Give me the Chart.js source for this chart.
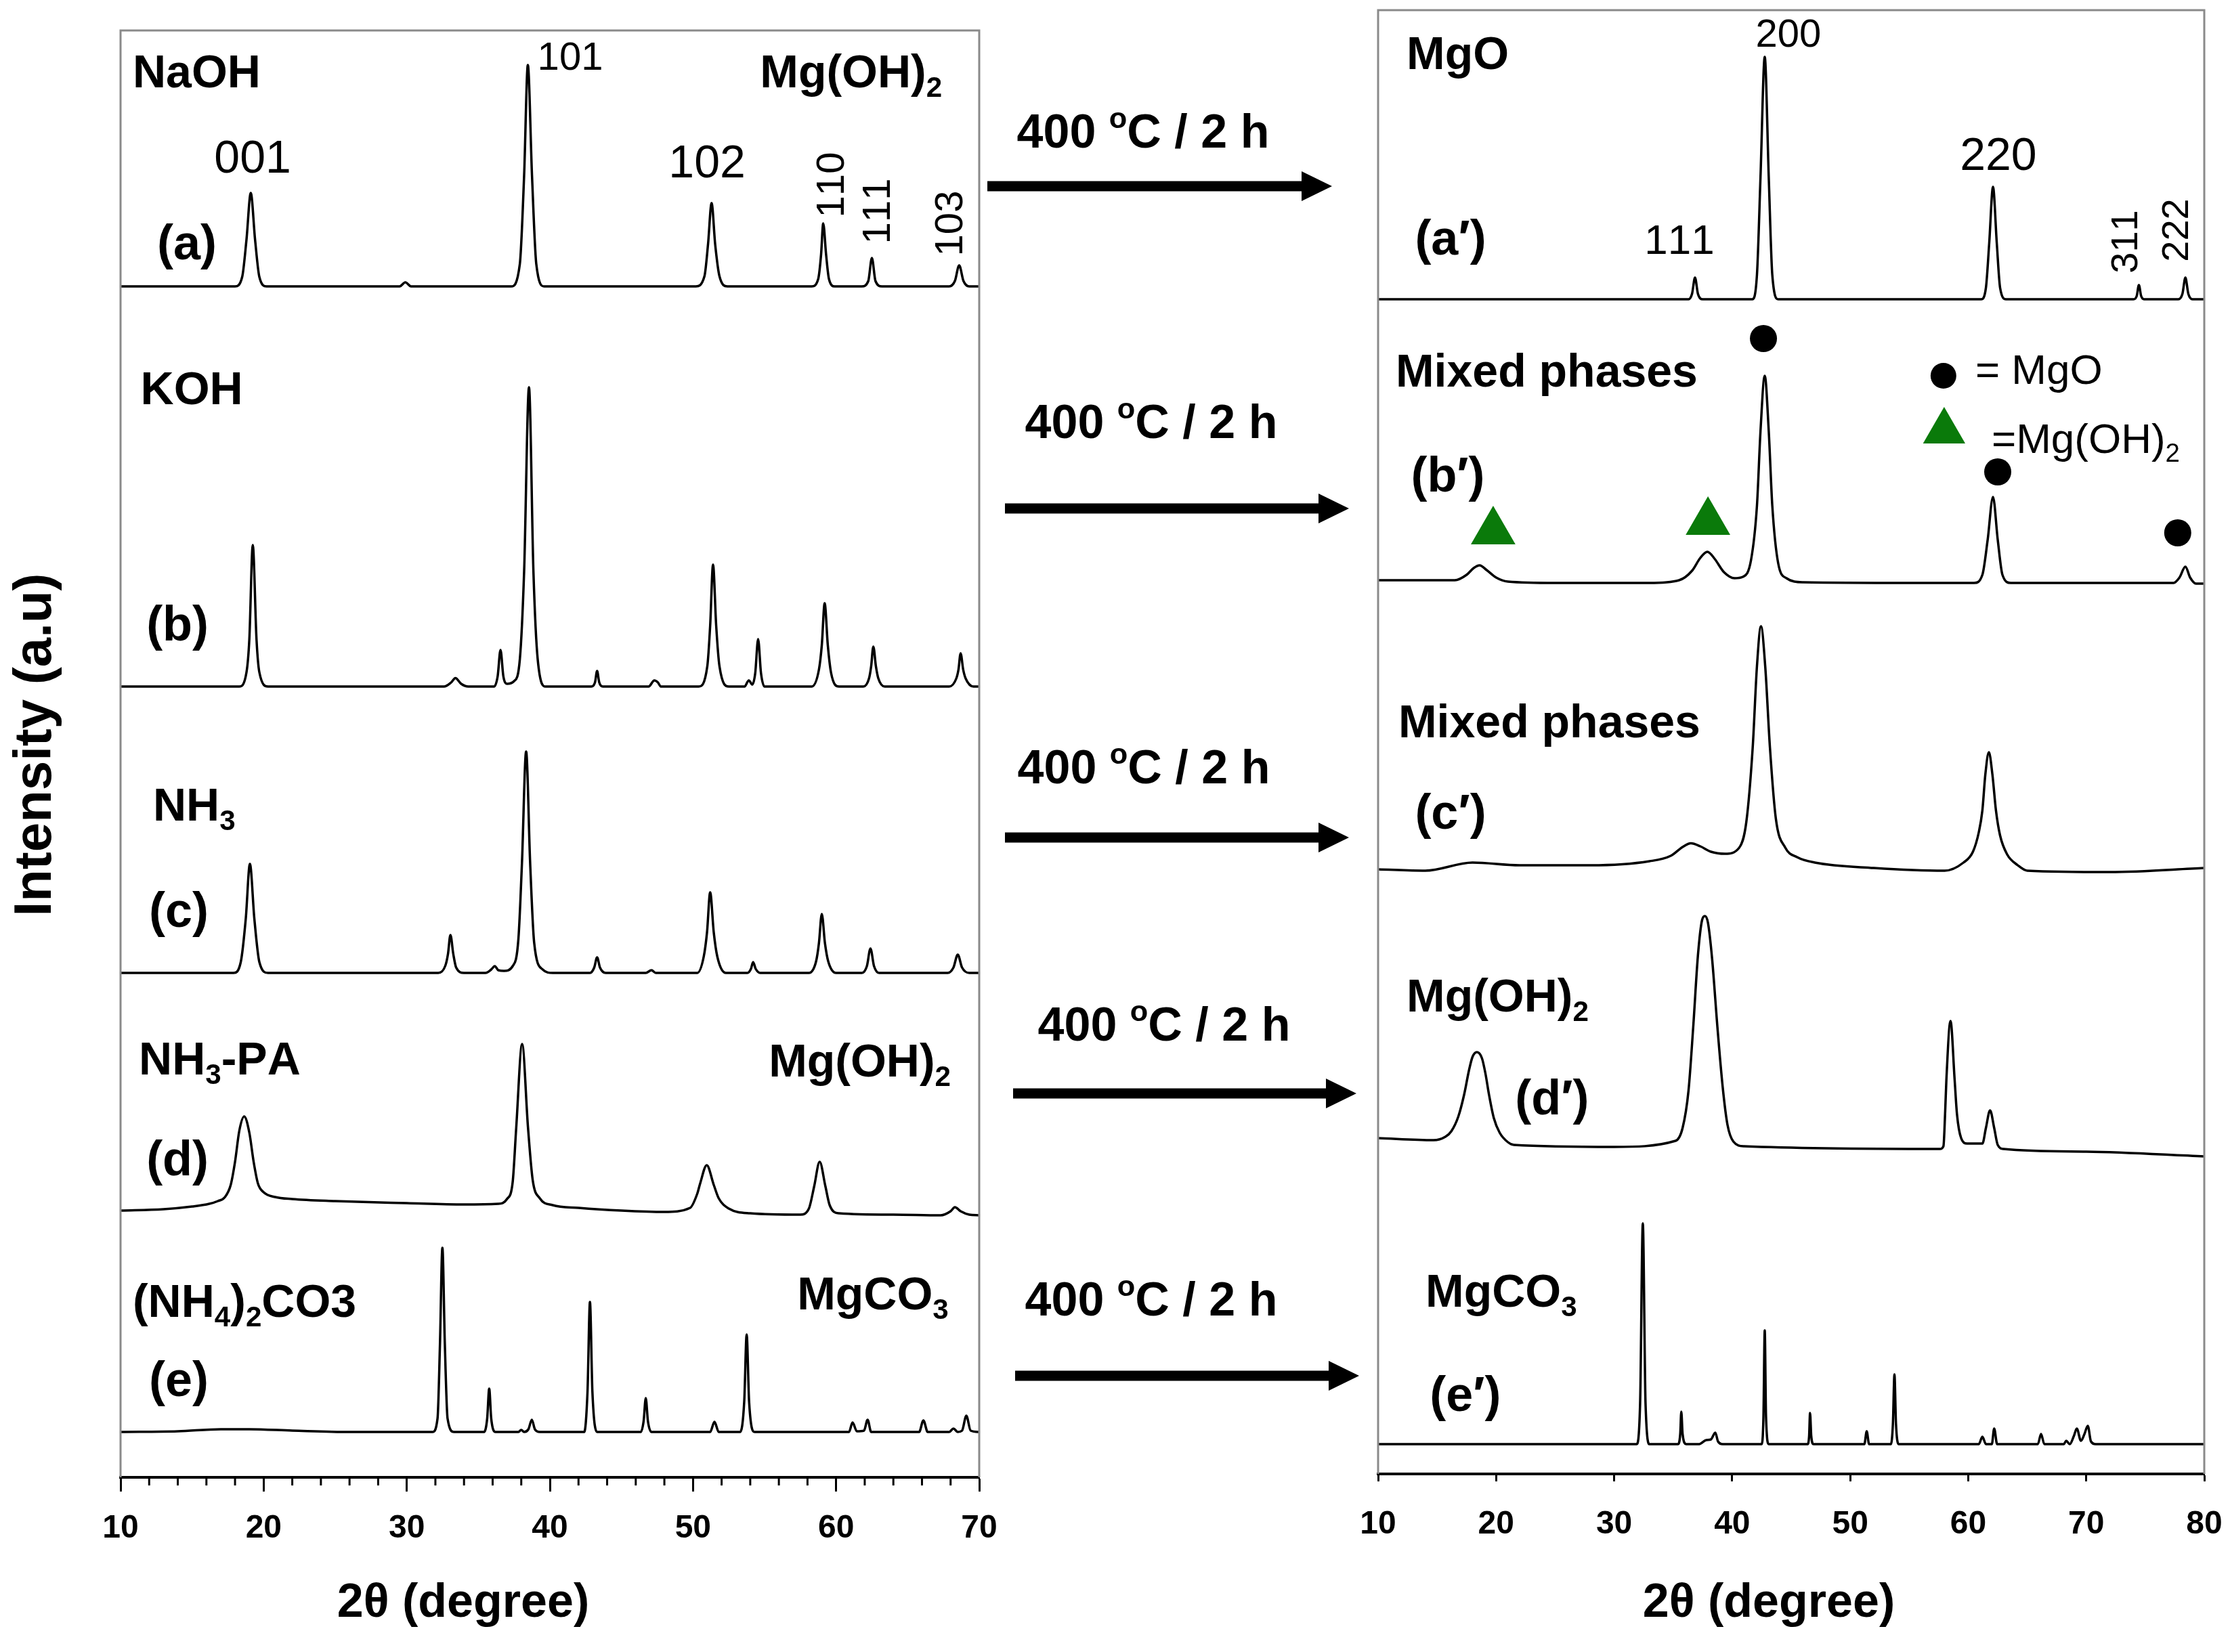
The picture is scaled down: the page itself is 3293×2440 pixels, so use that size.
<!DOCTYPE html>
<html>
<head>
<meta charset="utf-8">
<script src="https://cdn.jsdelivr.net/npm/chart.js@4.4.0/dist/chart.umd.min.js"></script>
<style>
  html, body { margin: 0; padding: 0; background: #fff; }
  #wrap { position: relative; width: 3293px; height: 2440px; overflow: hidden; background: #fff; }
  #left { position: absolute; left: 0; top: 0; }
  #right { position: absolute; left: 1960px; top: 0; }
</style>
</head>
<body>
<div id="wrap">
  <canvas id="left" width="2020" height="2440"></canvas>
  <canvas id="right" width="1373" height="2440"></canvas>
</div>
<script>
// XRD patterns, [2theta, intensity above the trace baseline]
// left panel: as-prepared samples (a)-(e)
const traceA = [[10,0],[18.0,0],[18.5,14],[18.8,69],[19.1,138],[19.4,69],[19.7,14],[20.2,0],
  [29.5,0],[29.9,6],[30.3,0],
  [37.3,0],[37.9,33],[38.2,164],[38.46,327],[38.75,164],[39.05,33],[39.6,0],
  [50.2,0],[50.8,15],[51.05,62],[51.3,123],[51.55,62],[51.85,15],[52.4,0],
  [58.3,0],[58.75,11],[58.95,47],[59.1,93],[59.3,47],[59.5,11],[59.9,0],
  [61.8,0],[62.25,8],[62.5,42],[62.75,8],[63.2,0],
  [67.9,0],[68.3,8],[68.6,31],[68.9,8],[69.3,0],[70,0]];
const traceB = [[10,0],[18.3,0],[18.8,21],[19.0,70],[19.24,209],[19.5,70],[19.7,21],[20.3,0],
  [32.6,0],[33.1,6],[33.4,12.6],[33.8,4],[34.3,0],
  [36.1,0],[36.35,15],[36.55,54],[36.75,15],[37.0,4],
  [37.5,8],[37.9,40],[38.2,170],[38.54,442],[38.85,170],[39.15,40],[39.7,0],
  [42.9,0],[43.15,6],[43.3,23],[43.45,6],[43.7,0],
  [46.9,0],[47.3,9],[47.55,6],[47.75,0],
  [50.4,0],[51.0,30],[51.2,90],[51.4,180],[51.62,90],[51.85,30],[52.5,0],
  [53.6,0],[53.9,9],[54.15,3],[54.35,20],[54.55,70],[54.75,20],[55.0,0],
  [58.3,0],[58.8,25],[59.0,61],[59.2,123],[59.42,61],[59.65,20],[60.2,0],
  [61.9,0],[62.3,12],[62.45,30],[62.6,59],[62.78,30],[62.95,12],[63.4,0],
  [67.9,0],[68.4,12],[68.55,25],[68.7,49],[68.88,25],[69.05,12],[69.6,0],[70,0]];
const traceC = [[10,0],[17.9,0],[18.4,16],[18.75,80],[19.04,161],[19.35,80],[19.7,16],[20.3,0],
  [32.2,0],[32.7,11],[32.88,28],[33.05,56],[33.25,28],[33.45,8],[34.0,0],
  [35.5,0],[35.9,5],[36.15,10],[36.4,4],[36.8,3],
  [37.4,10],[37.8,50],[38.05,163],[38.34,327],[38.62,163],[38.9,45],[39.5,5],[40.2,0],
  [42.8,0],[43.1,8],[43.3,23],[43.5,8],[43.9,0],
  [46.7,0],[47.1,4],[47.4,0],
  [50.3,0],[50.75,24],[50.98,60],[51.2,119],[51.45,60],[51.7,24],[52.3,0],
  [53.8,0],[54.05,6],[54.2,16],[54.38,6],[54.7,0],
  [58.1,0],[58.6,17],[58.8,44],[59.0,87],[59.22,44],[59.45,17],[60.0,0],
  [61.8,0],[62.15,10],[62.4,36],[62.65,10],[63.0,0],
  [67.8,0],[68.2,8],[68.5,27],[68.8,8],[69.3,0],[70,0]];
const traceD = [[10,0],[13,2],[15,6],[16.2,10],[16.8,14],[17.3,20],[17.7,38],[18.0,72],[18.3,118],[18.64,139],[19.0,115],[19.3,72],[19.6,40],[20.0,27],[20.8,20],
  [22,17],[25,14],[30,11],[34,9],[36.4,10],[37.0,17],[37.4,42],[37.65,123],[38.06,246],[38.47,123],[38.8,45],[39.3,18],[40.2,8],
  [42,4],[45,0],[48,-2],[49.8,4],[50.3,25],[50.5,40],[50.96,67],[51.45,38],[51.8,18],[52.5,3],
  [54,-4],[57.5,-6],[58.1,3],[58.47,36],[58.85,72],[59.25,36],[59.55,8],[60.2,-4],
  [64,-6],[67.3,-7],[68.0,-1],[68.3,5],[68.7,-1],[69.3,-6],[70,-7]];
const traceE = [[10,0],[14,1],[17,4],[19,4],[22,2],[26,0],
  [31.8,0],[32.15,20],[32.32,130],[32.49,272],[32.66,130],[32.85,20],[33.3,0],
  [35.4,0],[35.62,20],[35.76,64],[35.9,20],[36.2,0],
  [37.8,0],[38.0,3],[38.2,0],[38.5,4],[38.74,18],[38.95,4],[39.3,0],
  [42.4,0],[42.63,60],[42.8,192],[42.97,60],[43.3,0],
  [46.35,0],[46.55,16],[46.7,50],[46.85,16],[47.1,0],
  [51.2,0],[51.5,15],[51.8,0],
  [53.3,0],[53.58,45],[53.75,144],[53.92,45],[54.3,0],
  [60.9,0],[61.15,14],[61.45,1],[61.95,2],[62.2,18],[62.45,0],
  [65.8,0],[66.1,17],[66.4,0],
  [67.9,0],[68.2,5],[68.5,0],[68.8,2],[69.1,24],[69.4,2],[70,0]];

// right panel: after 400 C / 2 h, (a')-(e')
const traceA2 = [[10,0],[36.3,0],[36.6,8],[36.85,32],[37.1,8],[37.5,0],
  [41.7,0],[42.1,36],[42.4,180],[42.76,358],[43.1,180],[43.4,36],[43.9,0],
  [61.1,0],[61.5,17],[61.78,83],[62.1,166],[62.42,83],[62.7,17],[63.2,0],
  [74.0,0],[74.28,5],[74.46,21],[74.65,5],[74.9,0],
  [77.8,0],[78.15,8],[78.4,32],[78.65,8],[79.0,0],[80,0]];
const traceB2 = [[10,0],[16.5,0],[17.5,8],[18.1,18],[18.6,22],[19.2,15],[20,4],[21,-2],[25,-4],[33,-4],
  [35.5,0],[36.6,14],[37.3,33],[37.9,42],[38.5,32],[39.3,12],[40.2,3],[40.9,5],
  [41.6,30],[42.1,110],[42.4,220],[42.76,302],[43.1,220],[43.4,110],[43.9,25],[44.6,3],
  [46,-3],[55,-4],[60.5,-4],[61.2,8],[61.65,60],[62.1,123],[62.5,60],[62.9,8],[63.6,-4],
  [77.4,-4],[77.9,4],[78.4,20],[78.8,4],[79.3,-5],[80,-5]];
const traceC2 = [[10,0],[14,-2],[18,10],[22,6],[28,6],[33,12],[34.8,20],[35.8,33],[36.5,38.5],[37.3,34],[38.2,26],[39.4,23],
  [40.6,32],[41.2,70],[41.74,180],[42.1,300],[42.44,359],[42.8,300],[43.2,180],[43.7,75],[44.5,32],[45.5,18],[47,10],
  [52,2],[58,-2],[59.6,10],[60.4,26],[60.9,55],[61.2,87],[61.45,140],[61.75,173],[62.05,140],[62.35,87],[62.7,50],[63.3,22],[64.2,6],
  [65,-2],[72,-4],[80,2]];
const traceD2 = [[10,0],[14.7,-3],[15.7,2],[16.2,10],[16.8,32],[17.3,65],[17.7,100],[18.0,120],[18.38,127],[18.8,118],[19.1,95],[19.4,64],[19.8,30],[20.3,8],[21,-6],
  [21.5,-10],[30,-13],[35.2,-4],[35.8,15],[36.3,70],[36.7,164],[37.1,270],[37.45,322],[37.69,328],[37.95,318],[38.3,265],[38.75,164],[39.2,75],[39.6,20],[40.1,-5],[41,-12],
  [57.6,-16],[57.9,-12],[58.05,40],[58.15,86],[58.5,173],[58.85,86],[59.05,35],[59.4,0],[59.9,-8],
  [61.2,-8],[61.5,15],[61.85,41],[62.2,15],[62.5,-10],[63,-16],[70,-20],[80,-27]];
const traceE2 = [[10,0],[30,0],[31.9,0],[32.2,60],[32.43,326],[32.66,60],[33.0,0],
  [35.4,0],[35.6,15],[35.69,48],[35.8,15],[36.1,0],
  [37.2,0],[37.8,6],[38.2,7],[38.57,17],[38.8,4],[39.2,0],
  [42.5,0],[42.65,40],[42.76,168],[42.87,40],[43.1,0],
  [46.4,0],[46.52,12],[46.6,46],[46.7,12],[46.9,0],
  [51.2,0],[51.4,19],[51.6,0],
  [53.45,0],[53.62,30],[53.75,103],[53.88,30],[54.1,0],
  [60.9,0],[61.2,11],[61.5,0],[62.0,0],[62.2,23],[62.45,0],
  [65.9,0],[66.17,15],[66.45,0],
  [68.1,0],[68.3,5],[68.6,0],[68.95,12],[69.2,23],[69.55,5],[69.85,15],[70.13,27],[70.4,4],[70.8,0],[80,0]];

// vertical stacking of the traces
const leftOffsets = [1759, 1168, 745, 394, 67];
const rightOffsets = [1735, 1320, 893, 496, 44];

// phase markers on (b')
const mgoMarks = [[42.65,1677],[62.5,1480],[77.75,1390]];
const hydroxideMarks = [[19.75,1392],[37.95,1406]];
const keyCircle = [[57.9,1622]];
const keyTriangle = [[57.96,1540]];

// tick labels
const leftTicks = [10, 20, 30, 40, 50, 60, 70];
const leftMinorTicks = [12, 14, 16, 18, 22, 24, 26, 28, 32, 34, 36, 38, 42, 44, 46, 48, 52, 54, 56, 58, 62, 64, 66, 68];
const rightTicks = [10, 20, 30, 40, 50, 60, 70, 80];

// text: [text, 2theta, height, size, bold, align, rotated]   (_x = subscript, ^x = superscript)
const leftLabels = [
  ['NaOH', 10.85, 2077, 68, true, 'left'],
  ['Mg(OH)_2', 54.68, 2077, 68, true, 'left'],
  ['001', 19.23, 1951, 68, false, 'center'],
  ['101', 41.42, 2100, 58, false, 'center'],
  ['102', 50.98, 1944, 68, false, 'center'],
  ['110', 59.55, 1909, 58, false, 'center', true],
  ['111', 62.77, 1870, 58, false, 'center', true],
  ['103', 67.83, 1852, 58, false, 'center', true],
  ['(a)', 14.64, 1825, 72, true, 'center'],
  ['KOH', 11.4, 1609, 68, true, 'left'],
  ['(b)', 13.98, 1262, 72, true, 'center'],
  ['NH_3', 12.27, 994, 68, true, 'left'],
  ['(c)', 14.07, 839, 72, true, 'center'],
  ['NH_3-PA', 11.28, 619, 68, true, 'left'],
  ['Mg(OH)_2', 55.29, 616, 68, true, 'left'],
  ['(d)', 13.98, 472, 72, true, 'center'],
  ['(NH_4)_2CO3', 10.85, 261, 68, true, 'left'],
  ['MgCO_3', 57.28, 272, 68, true, 'left'],
  ['(e)', 14.07, 146, 72, true, 'center']
];
const rightLabels = [
  ['MgO', 12.41, 2099, 68, true, 'left'],
  ['200', 44.77, 2129, 58, false, 'center'],
  ['220', 62.55, 1950, 68, false, 'center'],
  ['111', 35.53, 1824, 62, false, 'center'],
  ['(a′)', 16.14, 1827, 72, true, 'center'],
  ['311', 73.17, 1820, 56, false, 'center', true],
  ['222', 77.47, 1837, 56, false, 'center', true],
  ['Mixed phases', 11.49, 1630, 68, true, 'left'],
  ['(b′)', 15.91, 1477, 72, true, 'center'],
  ['= MgO', 60.6, 1632, 62, false, 'left'],
  ['=Mg(OH)_2', 61.98, 1530, 62, false, 'left'],
  ['Mixed phases', 11.72, 1112, 68, true, 'left'],
  ['(c′)', 16.14, 979, 72, true, 'center'],
  ['Mg(OH)_2', 12.41, 707, 68, true, 'left'],
  ['(d′)', 24.74, 557, 72, true, 'center'],
  ['MgCO_3', 14.02, 271, 68, true, 'left'],
  ['(e′)', 17.4, 119, 72, true, 'center']
];

// heat treatment arrows between the panels: [x start, x tip, y], text centre [x, y]
const arrows = [[1458, 1967, 275], [1484, 1992, 751], [1484, 1992, 1237], [1496, 2003, 1615], [1499, 2007, 2032]];
const arrowText = [[1688, 193], [1700, 622], [1689, 1132], [1719, 1512], [1700, 1918]];

const FONT = "'Liberation Sans', Arial, Helvetica, sans-serif";

function richText(ctx, text, x, y, size, bold, align) {
  const parts = [];
  for (let i = 0; i < text.length; i++) {
    const c = text[i];
    if ((c === '_' || c === '^') && i + 1 < text.length) { parts.push({ s: text[i + 1], k: c }); i++; }
    else parts.push({ s: c, k: '' });
  }
  const w = bold ? 'bold ' : '';
  let total = 0;
  parts.forEach(p => {
    p.fs = p.k ? size * 0.62 : size;
    ctx.font = w + p.fs + 'px ' + FONT;
    p.w = ctx.measureText(p.s).width;
    total += p.w;
  });
  let cx = align === 'center' ? x - total / 2 : (align === 'right' ? x - total : x);
  const base = y + size * 0.36;
  ctx.textAlign = 'left';
  ctx.textBaseline = 'alphabetic';
  parts.forEach(p => {
    ctx.font = w + p.fs + 'px ' + FONT;
    let by = base;
    if (p.k === '_') by += size * 0.2;
    if (p.k === '^') by -= size * 0.42;
    ctx.fillText(p.s, cx, by);
    cx += p.w;
  });
}

function makeDecor(cfg) {
  return {
    id: 'decor',
    afterDraw(chart) {
      const ctx = chart.ctx, a = chart.chartArea;
      const xs = chart.scales.x, ys = chart.scales.y;
      ctx.save();
      // frame
      ctx.strokeStyle = '#8a8a8a';
      ctx.lineWidth = 3;
      ctx.beginPath();
      ctx.moveTo(a.left, a.bottom);
      ctx.lineTo(a.left, a.top);
      ctx.lineTo(a.right, a.top);
      ctx.lineTo(a.right, a.bottom);
      ctx.stroke();
      // minor ticks
      ctx.strokeStyle = '#000';
      cfg.minor.forEach(v => {
        const px = xs.getPixelForValue(v);
        ctx.beginPath();
        ctx.moveTo(px, a.bottom);
        ctx.lineTo(px, a.bottom + 12);
        ctx.stroke();
      });
      ctx.fillStyle = '#000';
      cfg.labels.forEach(l => {
        const px = xs.getPixelForValue(l[1]), py = ys.getPixelForValue(l[2]);
        if (l[6]) {
          ctx.save();
          ctx.translate(px, py);
          ctx.rotate(-Math.PI / 2);
          richText(ctx, l[0], 0, 0, l[3], l[4], 'center');
          ctx.restore();
        } else {
          richText(ctx, l[0], px, py, l[3], l[4], l[5]);
        }
      });
      // axis title
      richText(ctx, '2θ (degree)', cfg.titleX, 2363, 70, true, 'center');
      if (cfg.middle) {
        ctx.save();
        ctx.translate(47, 1100);
        ctx.rotate(-Math.PI / 2);
        richText(ctx, 'Intensity (a.u)', 0, 0, 78, true, 'center');
        ctx.restore();
        arrows.forEach(r => {
          const head = 45;
          ctx.fillRect(r[0], r[2] - 7.5, r[1] - r[0] - head + 2, 15);
          ctx.beginPath();
          ctx.moveTo(r[1], r[2]);
          ctx.lineTo(r[1] - head, r[2] - 22);
          ctx.lineTo(r[1] - head, r[2] + 22);
          ctx.closePath();
          ctx.fill();
        });
        arrowText.forEach(t => richText(ctx, '400 ^oC / 2 h', t[0], t[1], 70, true, 'center'));
      }
      ctx.restore();
    }
  };
}

function trace(points, offset) {
  return {
    data: points.map(p => ({ x: p[0], y: p[1] + offset })),
    showLine: true,
    borderColor: '#000',
    borderWidth: 3.5,
    pointRadius: 0,
    pointHoverRadius: 0,
    cubicInterpolationMode: 'monotone',
    fill: false
  };
}

function marks(points, style, radius, color) {
  return {
    data: points.map(p => ({ x: p[0], y: p[1] })),
    showLine: false,
    pointStyle: style,
    pointRadius: radius,
    backgroundColor: color,
    borderColor: color,
    borderWidth: 0
  };
}

function xAxis(min, max, ticks, tickLength, pad, height) {
  return {
    type: 'linear',
    min: min,
    max: max,
    afterBuildTicks: s => { s.ticks = ticks.map(v => ({ value: v })); },
    afterFit: s => { s.height = height; },
    ticks: { color: '#000', padding: pad, maxRotation: 0, font: { family: FONT, size: 48, weight: 'bold' } },
    grid: { drawOnChartArea: false, drawTicks: true, tickLength: tickLength, tickWidth: 3, tickColor: '#000' },
    border: { display: true, color: '#000', width: 4 }
  };
}

function baseOptions(x, yMax, padding) {
  return {
    responsive: false,
    devicePixelRatio: 1,
    animation: false,
    layout: { padding: padding, autoPadding: false },
    plugins: { legend: { display: false }, tooltip: { enabled: false } },
    scales: {
      x: x,
      y: { display: false, min: 0, max: yMax }
    }
  };
}

new Chart(document.getElementById('left'), {
  type: 'scatter',
  data: {
    datasets: [traceA, traceB, traceC, traceD, traceE].map((t, i) => trace(t, leftOffsets[i]))
  },
  options: baseOptions(xAxis(10, 70, leftTicks, 21, 26, 258), 2137, { left: 178, right: 574, top: 45, bottom: 0 }),
  plugins: [makeDecor({ labels: leftLabels, minor: leftMinorTicks, titleX: 684, middle: true })]
});

// right canvas starts at x = 1960 and runs past the page edge so the tick-label padding fits
new Chart(document.getElementById('right'), {
  type: 'scatter',
  data: {
    datasets: [traceA2, traceB2, traceC2, traceD2, traceE2].map((t, i) => trace(t, rightOffsets[i])).concat([
      marks(mgoMarks, 'circle', 20, '#000'),
      marks(keyCircle, 'circle', 19, '#000'),
      marks(hydroxideMarks, 'triangle', 38, '#0a7a0a'),
      marks(keyTriangle, 'triangle', 36, '#0a7a0a')
    ])
  },
  options: baseOptions(xAxis(10, 80, rightTicks, 11, 35, 263), 2162, { left: 75, right: 78, top: 15, bottom: 0 }),
  plugins: [makeDecor({ labels: rightLabels, minor: [], titleX: 2612 - 1960, middle: false })]
});
</script>
</body>
</html>
